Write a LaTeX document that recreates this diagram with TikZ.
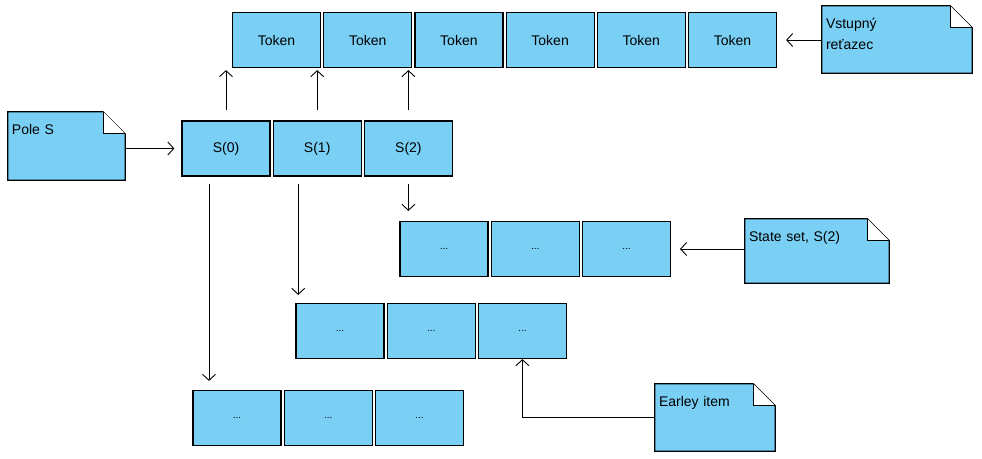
\documentclass[tikz,border=0pt]{standalone}
\usepackage{fontspec}
\setmainfont{Liberation Sans}
\usetikzlibrary{arrows.meta, positioning, backgrounds}
\definecolor{cellblue}{RGB}{122,207,245}

\begin{document}
\begin{tikzpicture}[x=1pt, y=-1pt, >={Straight Barb[length=6pt,width=13pt]},
    cell/.style={draw, fill=cellblue, line width=1.2pt, minimum width=88pt, minimum height=55pt, inner sep=0pt, font=\fontsize{14}{16}\selectfont},
    dots/.style={cell, font=\fontsize{10}{12}\selectfont},
    note/.style 2 args={minimum width=#1, minimum height=#2, text width=#1-8pt, align=left, inner xsep=4pt, inner ysep=10pt, text height=12pt, text depth=#2-32pt, font=\fontsize{14}{21}\selectfont},
    notebody/.style={draw, fill=cellblue, line width=1.2pt, line join=miter},
    arr/.style={->, line width=0.9pt}]
    \useasboundingbox (0,0) rectangle (982,458);

    % Input tokens
    \node[cell] (tok1) at (276.5,40) {Token};
    \node[cell, right=2pt of tok1] (tok2) {Token};
    \node[cell, right=2pt of tok2] (tok3) {Token};
    \node[cell, right=2pt of tok3] (tok4) {Token};
    \node[cell, right=2pt of tok4] (tok5) {Token};
    \node[cell, right=2pt of tok5] (tok6) {Token};

    % Array S
    \node[cell] (s0) at (226,148.5) {S(0)};
    \node[cell, right=2pt of s0] (s1) {S(1)};
    \node[cell, right=2pt of s1] (s2) {S(2)};

    % State sets
    \node[dots] (st1) at (444,249) {...};
    \node[dots, right=2pt of st1] (st2) {...};
    \node[dots, right=2pt of st2] (st3) {...};

    \node[dots] (m1) at (340,331) {...};
    \node[dots, right=2pt of m1] (m2) {...};
    \node[dots, right=2pt of m2] (m3) {...};

    \node[dots] (b1) at (237,418) {...};
    \node[dots, right=2pt of b1] (b2) {...};
    \node[dots, right=2pt of b2] (b3) {...};

    % Notes
    \node[note={117pt}{68pt}] (poles) at (66.5,146) {Pole S};
    \node[note={150pt}{67pt}] (vstup) at (897,39.5) {Vstupný\\reťazec};
    \node[note={144pt}{64pt}] (stateset) at (817,251) {State set, S(2)};
    \node[note={120pt}{67pt}] (earley) at (715,417.5) {Earley item};

    \begin{scope}[on background layer]
      \foreach \n in {poles, vstup, stateset, earley} {
        \draw[notebody] (\n.south west) -- (\n.north west) -- ([xshift=-22pt]\n.north east)
          -- ([yshift=-22pt]\n.north east) -- (\n.south east) -- cycle;
        \draw[notebody, fill=white] ([xshift=-22pt]\n.north east) -- ([xshift=-22pt, yshift=-22pt]\n.north east)
          -- ([yshift=-22pt]\n.north east);
      }
    \end{scope}

    % Arrows
    \foreach \s/\t in {s0/tok1, s1/tok2, s2/tok3}
      \draw[arr, shorten <=10pt, shorten >=2pt] (\s.north) -- (\s.north |- \t.south);
    \draw[arr, shorten >=7pt] (poles.east |- s0.west) -- (s0.west);
    \draw[arr, shorten >=9pt] (vstup.west |- tok6.east) -- (tok6.east);
    \draw[arr, shorten >=9pt] (stateset.west |- st3.east) -- (st3.east);
    \draw[arr, shorten <=7pt, shorten >=10pt] (s2.south) -- (s2.south |- st1.north);
    \draw[arr, shorten <=7pt, shorten >=8pt] ([xshift=-19pt]s1.south) -- ([xshift=-19pt]s1.south |- m1.north);
    \draw[arr, shorten <=7pt, shorten >=9pt] ([xshift=-17pt]s0.south) -- ([xshift=-17pt]s0.south |- b1.north);
    \draw[arr] (earley.west) -| (m3.south);
  \end{tikzpicture}
\end{document}
